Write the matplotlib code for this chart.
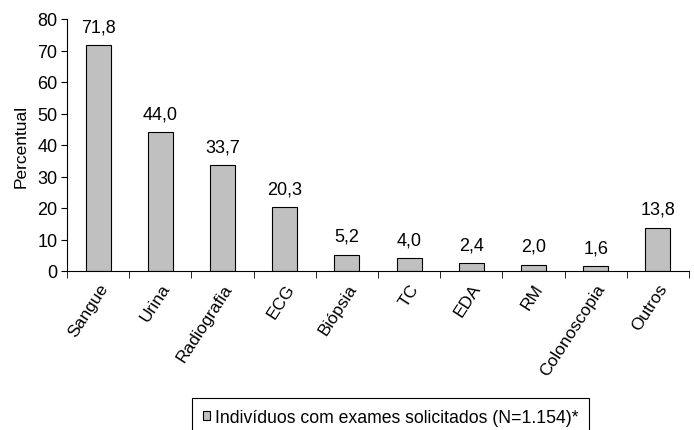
import numpy as np
import matplotlib.pyplot as plt
import matplotlib.ticker as ticker

plt.rcParams['font.family'] = ['Liberation Sans', 'DejaVu Sans']

exames = ['Sangue', 'Urina', 'Radiografia', 'ECG', 'Biópsia', 'TC', 'EDA',
          'RM', 'Colonoscopia', 'Outros']
percentual = [71.8, 44.0, 33.7, 20.3, 5.2, 4.0, 2.4, 2.0, 1.6, 13.8]
legenda = 'Indivíduos com exames solicitados (N=1.154)*'

fig = plt.figure(figsize=(6.94, 4.31), dpi=100)
ax = fig.add_axes([67 / 694, 1 - 272 / 431, 622 / 694, 252 / 431])

x = np.arange(len(exames))
bars = ax.bar(x, percentual, width=0.4, color='#c0c0c0', edgecolor='black',
              linewidth=0.8, label=legenda)
ax.bar_label(bars, labels=[('%.1f' % v).replace('.', ',') for v in percentual],
             padding=7, fontsize=13)

ax.set_xlim(-0.5, len(exames) - 0.5)
ax.set_ylim(0, 80)
ax.yaxis.set_major_locator(ticker.MultipleLocator(10))
ax.set_ylabel('Percentual', fontsize=12.5, labelpad=6)

# rótulos no centro, marcas entre as categorias
ax.set_xticks(x)
ax.set_xticklabels(exames, rotation=57, ha='right', rotation_mode='anchor',
                   fontsize=12.5)
ax.tick_params(axis='x', which='major', length=0, pad=7)
ax.set_xticks(np.arange(-0.5, len(exames)), minor=True)
ax.tick_params(axis='x', which='minor', length=5, direction='out')
ax.tick_params(axis='y', labelsize=13, length=4, pad=3)

ax.spines['top'].set_visible(False)
ax.spines['right'].set_visible(False)

leg = fig.legend(handles=[bars], labels=[legenda], loc='upper left',
                 bbox_to_anchor=(192 / 694, 1 - 399 / 431), fontsize=12.7,
                 fancybox=False, edgecolor='black', framealpha=1,
                 handlelength=0.4, handleheight=0.4, handletextpad=0.3,
                 borderpad=0.6, borderaxespad=0)
leg.get_frame().set_linewidth(0.8)

plt.savefig('out.png', dpi=100)
